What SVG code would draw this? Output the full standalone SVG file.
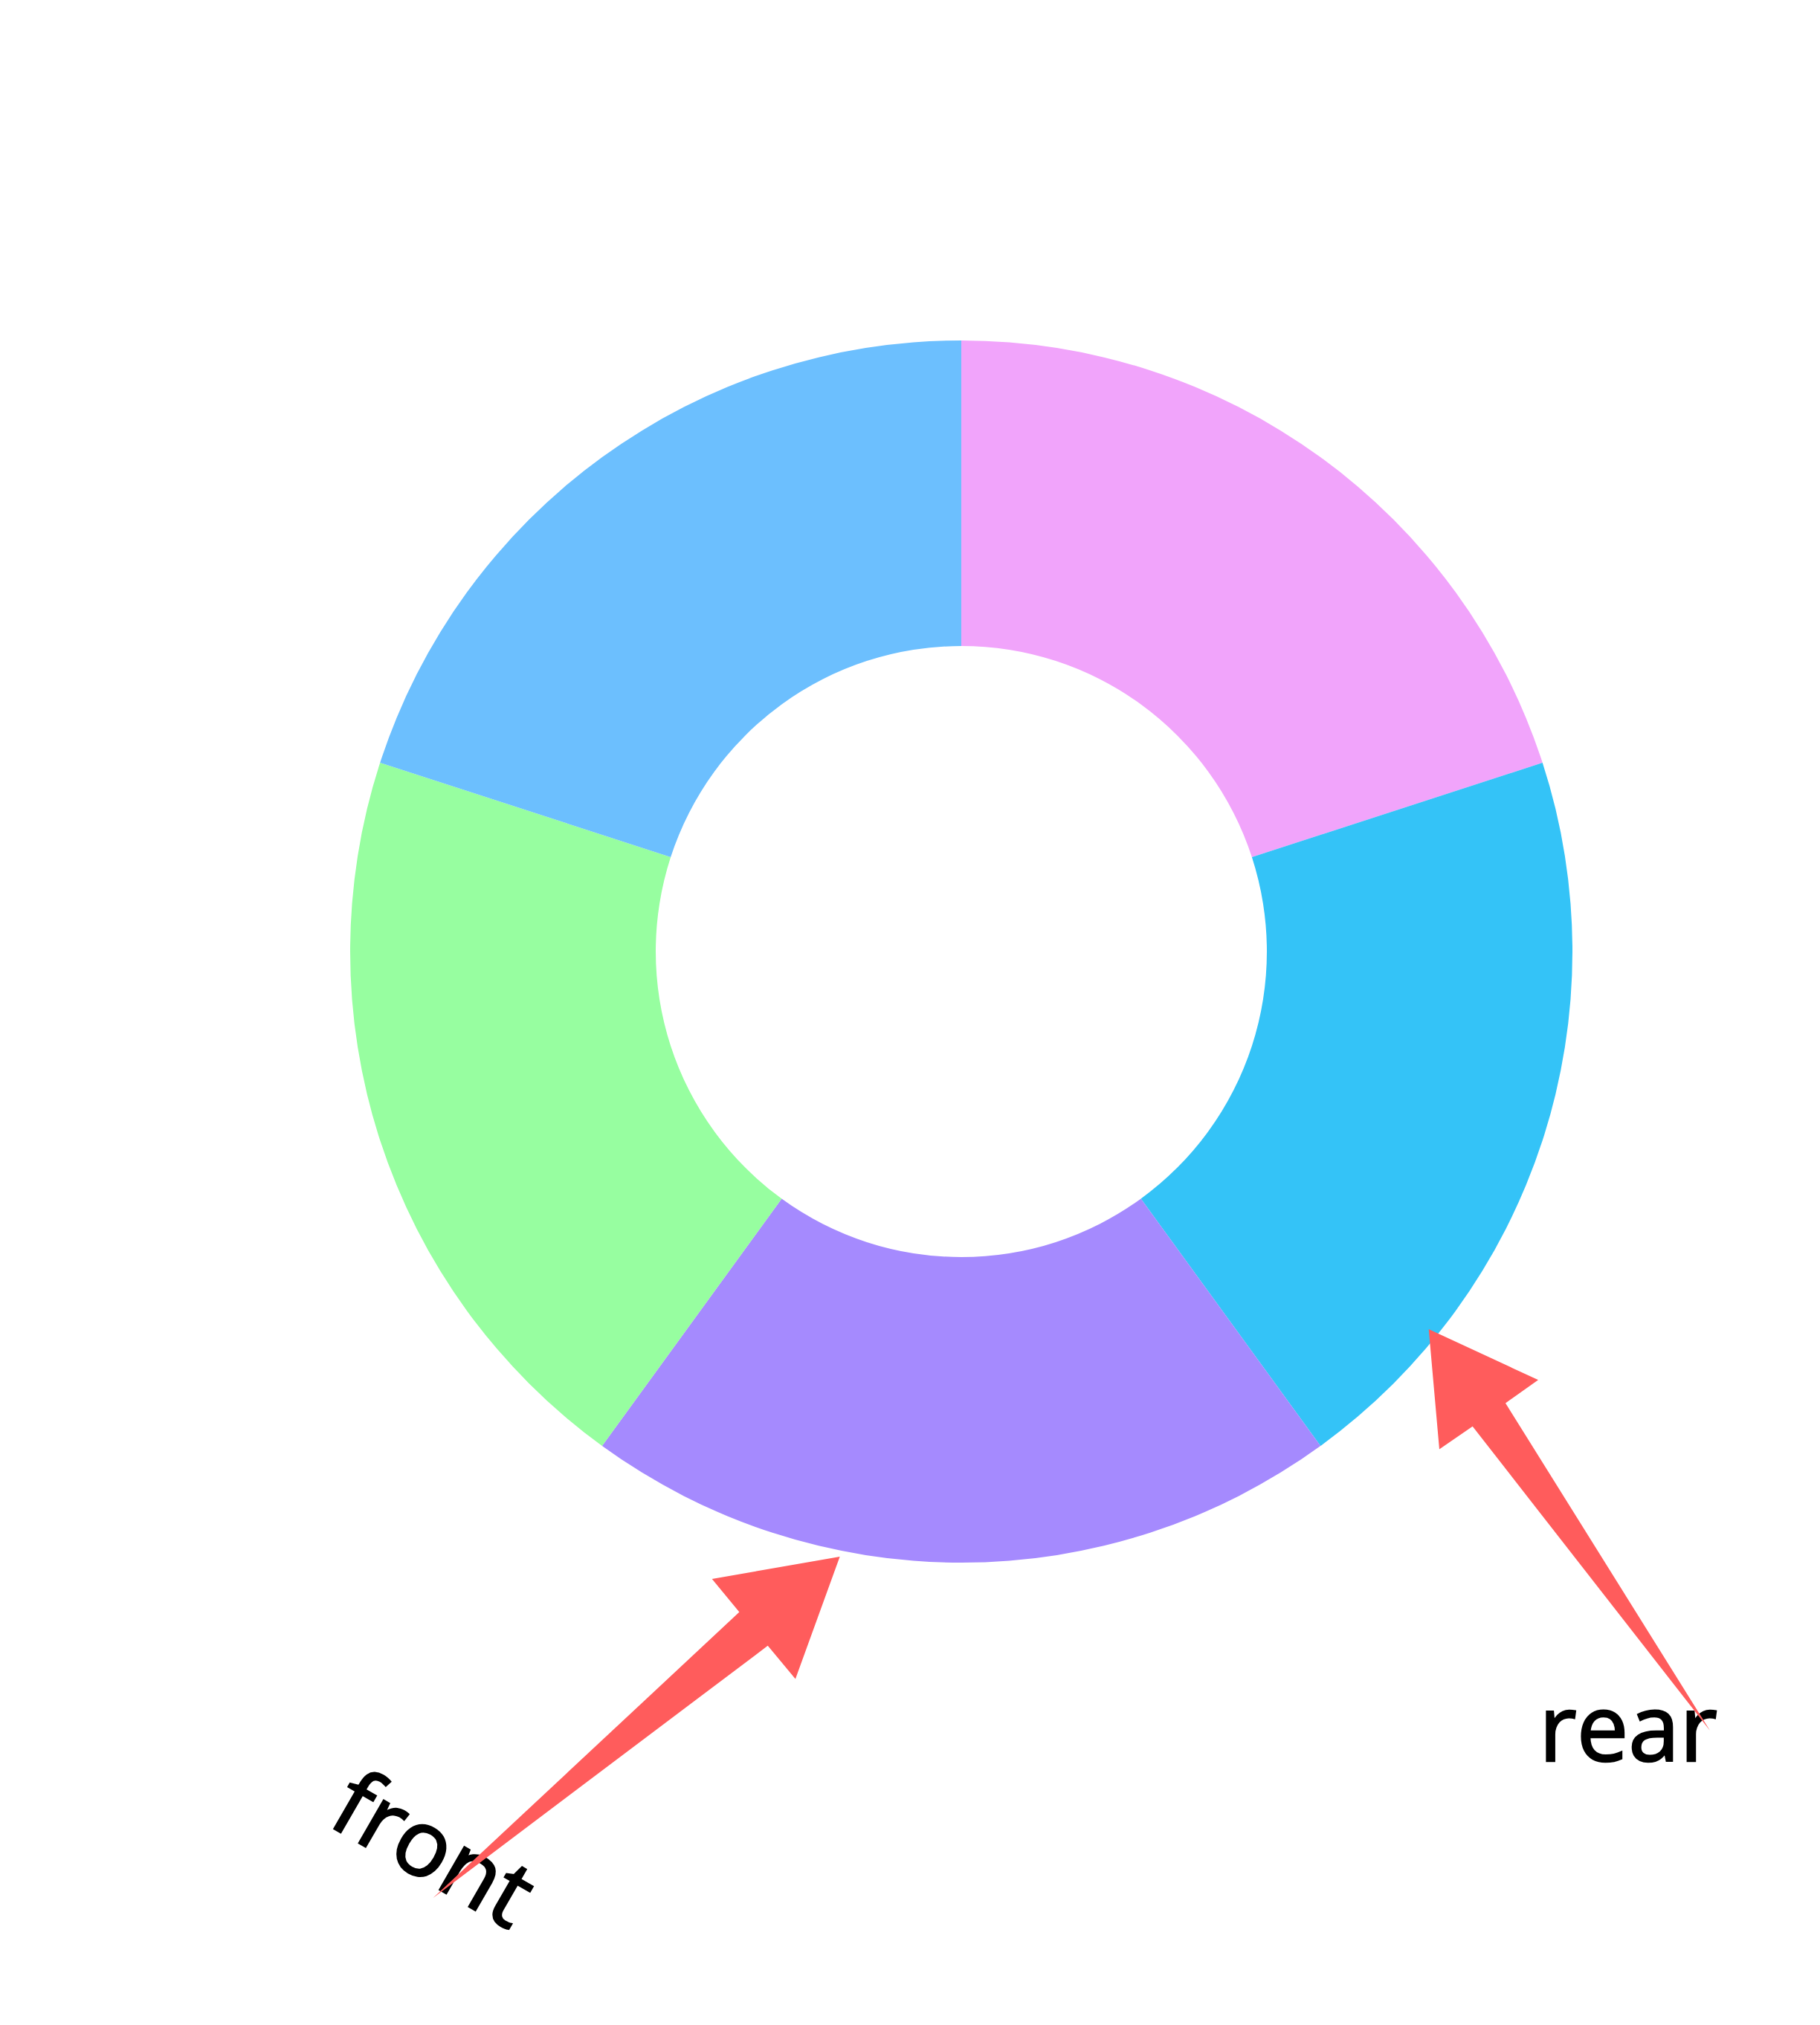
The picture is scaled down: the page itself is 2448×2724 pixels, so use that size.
<svg xmlns="http://www.w3.org/2000/svg" width="2448" height="2724" viewBox="0 0 2448 2724">
<style>
.lbl{font-family:"Open Sans","Noto Sans","DejaVu Sans",sans-serif;font-size:124px;fill:#000;stroke:#000;stroke-width:2.5px}
.arr{fill:#FF5C5C;stroke:none}
</style>
<rect width="2448" height="2724" fill="#ffffff"/>
<g id="donut">
<g id="wedge-pink"><path d="M1293,458 A822,822 0 0 1 2074.77,1025.99 L1683.88,1152.99 A411,411 0 0 0 1293,869 Z" fill="#F1A4FB"/></g>
<g id="wedge-cyan"><path d="M2074.77,1025.99 A822,822 0 0 1 1776.16,1945.01 L1534.58,1612.51 A411,411 0 0 0 1683.88,1152.99 Z" fill="#34C3F7"/></g>
<g id="wedge-purple"><path d="M1776.16,1945.01 A822,822 0 0 1 809.84,1945.01 L1051.42,1612.51 A411,411 0 0 0 1534.58,1612.51 Z" fill="#A58AFE"/></g>
<g id="wedge-green"><path d="M809.84,1945.01 A822,822 0 0 1 511.23,1025.99 L902.12,1152.99 A411,411 0 0 0 1051.42,1612.51 Z" fill="#97FEA0"/></g>
<g id="wedge-blue"><path d="M511.23,1025.99 A822,822 0 0 1 1293,458 L1293,869 A411,411 0 0 0 902.12,1152.99 Z" fill="#6CBFFE"/></g>
</g>
<g id="label-front"><text class="lbl" text-anchor="middle" transform="translate(562,2525) rotate(30)">front</text></g>
<g id="label-rear"><text class="lbl" x="2190" y="2369" text-anchor="middle">rear</text></g>
<g id="connectors">
<path id="arrow-front" class="arr" d="M582.3,2553.3 L994.4,2168.6 L957.7,2123.9 L1129.6,2094 L1069.9,2258.6 L1032.7,2213.8 Z"/>
<path id="arrow-rear" class="arr" d="M2300,2328 L1980.7,1918.8 L1936,1949.6 L1921.7,1788 L2069,1856.3 L2025,1887.5 Z"/>
</g>
</svg>
